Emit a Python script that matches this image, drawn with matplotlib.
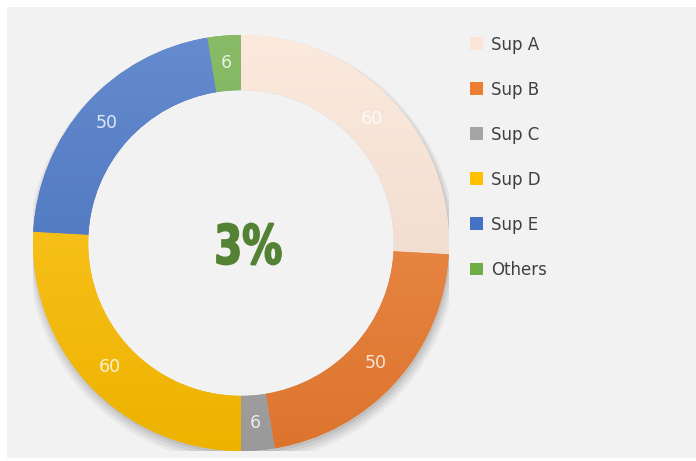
import numpy as np
import matplotlib.pyplot as plt
from matplotlib.patches import Rectangle, Circle, PathPatch
from matplotlib.colors import to_rgb
from matplotlib.textpath import TextPath
from matplotlib.font_manager import FontProperties
from matplotlib.transforms import Affine2D

labels = ["Sup A", "Sup B", "Sup C", "Sup D", "Sup E", "Others"]
values = [60, 50, 6, 60, 50, 6]
colors = ["#FBE5D6", "#ED7D31", "#A5A5A5", "#FFC000", "#4472C4", "#70AD47"]
center_text = "3%"

W, H = 696, 461
fig = plt.figure(figsize=(W / 100, H / 100), dpi=100, facecolor="white")

# light grey chart area
fig.patches.append(Rectangle((7 / W, 3 / H), 1 - 7 / W, 1 - 10 / H,
                             transform=fig.transFigure, facecolor="#F2F2F2",
                             edgecolor="none", zorder=-5))

cx, cy, R = 241, 243, 208
ax = fig.add_axes([(cx - R) / W, (H - cy - R) / H, 2 * R / W, 2 * R / H])
ax.set_facecolor("none")

# soft shadow under the ring
for i, a in enumerate([0.04, 0.05, 0.06, 0.07]):
    ax.add_patch(Circle((0.006, -0.03 + i * 0.005), 1.0 + 0.01 * (3 - i),
                        facecolor="black", alpha=a, edgecolor="none", zorder=0))
ax.add_patch(Circle((0, 0), 0.735, facecolor="#F2F2F2", edgecolor="none", zorder=0.5))

wedges, texts = ax.pie(values, colors=colors, startangle=90, counterclock=False,
                       radius=1.0, wedgeprops=dict(width=0.265, edgecolor="none"),
                       labels=[str(v) for v in values], labeldistance=0.867,
                       textprops=dict(color="white", fontsize=12.5, ha="center",
                                      va="center", alpha=0.8))
for w in wedges:
    w.set_zorder(1)
for t in texts:
    t.set_horizontalalignment("center")
    t.set_verticalalignment("center")
    t.set_zorder(3)

# vertical gradient shading on each segment
grad = np.linspace(1, 0, 256).reshape(-1, 1)
for w, c in zip(wedges, colors):
    base = np.array(to_rgb(c))
    light = base + (1 - base) * 0.18
    dark = base * 0.93
    img = light[None, None, :] * grad[..., None] + dark[None, None, :] * (1 - grad[..., None])
    im = ax.imshow(img, extent=(-1, 1, -1, 1), origin="upper", zorder=2,
                   interpolation="bilinear", aspect="auto")
    im.set_clip_path(w)

ax.set_xlim(-1, 1)
ax.set_ylim(-1, 1)
ax.set_aspect("auto")
ax.axis("off")

# condensed heavy centre figure: stretch a text path to the box of the original
tp = TextPath((0, 0), center_text, size=1,
              prop=FontProperties(family="DejaVu Sans", weight="bold"))
ext = tp.get_extents()
tw, th = 64, 41          # pixel width / height of the glyphs
tcx, tcy = 249, 244      # pixel centre (from top-left)
sx, sy = tw / ext.width, th / ext.height
trans = (Affine2D().translate(-ext.x0 - ext.width / 2, -ext.y0 - ext.height / 2)
         .scale(sx / W, sy / H).translate(tcx / W, (H - tcy) / H))
fig.patches.append(PathPatch(trans.transform_path(tp), facecolor="#548235",
                             edgecolor="#548235", lw=1.3, joinstyle="miter",
                             transform=fig.transFigure, zorder=5))

leg = fig.legend(wedges, labels, loc="upper left", bbox_to_anchor=(463 / W, 1 - 29 / H),
                 frameon=False, fontsize=12, labelspacing=1.62, handlelength=0.8,
                 handleheight=0.8, handletextpad=0.5, borderaxespad=0)
for t in leg.get_texts():
    t.set_color("#404040")

fig.savefig("out.png", dpi=100, facecolor="white")
